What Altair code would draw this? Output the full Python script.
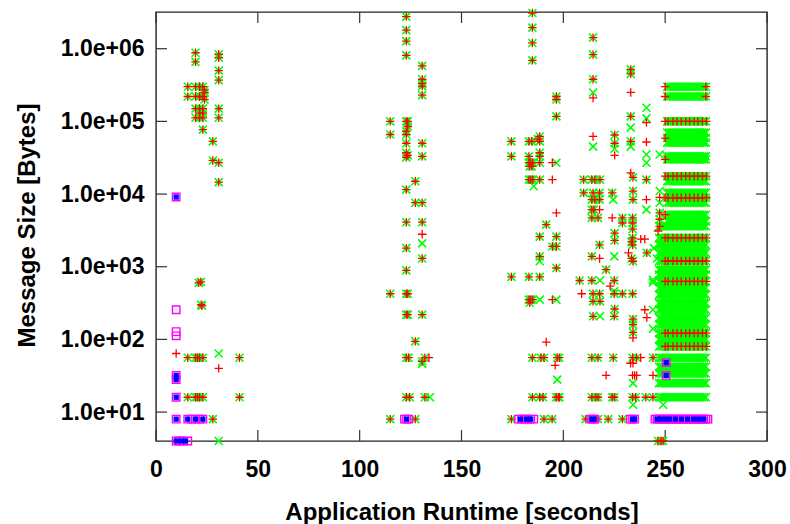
import altair as alt
import pandas as pd

# ---------------- data (time [s], size [bytes]) ----------------
# points where a red "+" and a green "x" coincide
left_both = [
    (19.4, 8.8e5), (19.4, 6.6e5), (30.8, 8.4e5), (30.8, 7.5e5), (30.8, 5.0e5), (30.8, 3.7e5),
    (15.6, 3.0e5), (19.4, 3.0e5), (21.4, 3.0e5), (23.0, 3.0e5), (23.8, 2.7e5), (23.8, 2.5e5),
    (15.6, 2.2e5), (19.4, 2.2e5), (21.4, 2.2e5), (23.0, 2.2e5), (23.8, 2.0e5),
    (19.4, 1.5e5), (21.4, 1.5e5), (23.0, 1.5e5), (30.8, 1.5e5), (21.4, 1.3e5), (23.0, 1.3e5),
    (19.4, 1.12e5), (21.4, 1.12e5), (23.0, 1.12e5), (30.8, 1.12e5), (23.0, 7.7e4),
    (27.9, 5.3e4), (27.9, 2.9e4), (30.8, 2.7e4), (30.8, 1.46e4),
    (21.0, 600), (22.0, 620), (22.2, 300), (22.6, 290),
    (15.6, 56), (19.4, 56), (20.4, 56), (21.4, 56), (23.0, 56), (41.0, 56),
    (15.6, 16), (19.4, 16), (20.4, 16), (21.4, 16), (23.0, 16), (41.0, 16),
    (27.9, 8),
]
left_red = [(9.9, 64), (30.8, 40)]
left_green = [(30.8, 64), (30.8, 4)]

mid_both = [
    (122.9, 2.76e6), (122.9, 1.8e6), (122.9, 1.27e6), (122.9, 8.1e5),
    (130.7, 5.8e5), (130.7, 3.8e5), (130.7, 3.3e5), (130.7, 3.05e5), (130.7, 2.3e5),
    (115.0, 1.0e5), (122.9, 1.0e5), (123.6, 1.0e5), (115.0, 6.6e4), (122.9, 6.6e4),
    (122.9, 7.3e4), (123.6, 8.5e4), (122.9, 5.0e4), (130.7, 5.0e4), (122.9, 3.7e4),
    (123.6, 3.4e4), (122.9, 3.2e4), (130.7, 3.3e4),
    (127.3, 1.5e4), (122.9, 1.15e4), (127.3, 7.6e3), (130.7, 7.6e3),
    (122.9, 4.1e3), (130.7, 4.1e3), (122.9, 1.8e3), (130.7, 1.3e3), (122.9, 890),
    (115.0, 425), (122.9, 425), (123.6, 425), (122.9, 219), (123.6, 219), (130.7, 219),
    (127.3, 94), (122.9, 56), (124.0, 56), (132.0, 56), (130.7, 50),
    (122.9, 16), (124.5, 16), (132.0, 16), (115.0, 8), (127.3, 8),
]
mid_red = [(130.7, 2.8e3), (134.0, 56)]
mid_green = [(130.7, 2.1e3), (130.7, 46), (134.5, 16)]

d_both = [
    (184.8, 3.1e6), (184.8, 1.95e6), (184.8, 1.2e6), (184.8, 6.9e5),
    (196.6, 2.2e5), (196.6, 2.0e5), (196.6, 1.17e5),
    (174.5, 5.3e4), (183.1, 5.3e4), (184.5, 5.3e4), (188.4, 5.3e4), (188.4, 6.2e4), (187.5, 5.7e4),
    (174.5, 3.3e4), (183.1, 3.3e4), (188.4, 3.3e4), (188.4, 3.7e4),
    (183.1, 2.7e4), (184.0, 2.7e4), (185.0, 2.7e4), (183.5, 2.4e4), (184.5, 2.4e4), (188.4, 2.7e4),
    (183.1, 1.58e4), (184.0, 1.58e4), (185.0, 1.58e4), (188.4, 1.58e4),
    (191.6, 3.8e3), (188.4, 2.6e3), (196.6, 2.6e3), (194.6, 1.9e3), (196.6, 1.9e3),
    (188.4, 1.39e3), (196.6, 960), (174.5, 724), (183.1, 724), (188.4, 724),
    (183.1, 352), (184.0, 352), (185.0, 352), (183.5, 320),
    (184.8, 56), (189.0, 56), (190.5, 56), (197.0, 56),
    (184.8, 16), (188.4, 16), (190.0, 16), (196.5, 16), (197.5, 16),
    (174.5, 8), (190.5, 8), (194.5, 8),
]
d_red = [(194.6, 2.7e4), (194.6, 1.58e4), (196.6, 5.5e3), (191.6, 92), (196.0, 44), (194.6, 352)]
d_green = [(196.6, 2.7e4), (185.5, 1.28e4), (188.4, 1.19e3), (188.4, 352), (196.6, 352), (197.0, 28)]

e_both = [
    (214.6, 1.42e6), (214.6, 8.3e5), (214.6, 3.8e5), (233.1, 5.2e5), (233.1, 4.5e5),
    (233.1, 1.17e5), (233.1, 5.3e4), (225.2, 6.5e4), (225.2, 5.0e4), (234.2, 1.7e4),
    (234.2, 1.1e4), (234.2, 8.4e3),
    (210.0, 1.58e4), (214.0, 1.58e4), (215.5, 1.58e4), (218.0, 1.58e4),
    (210.0, 1.04e4), (214.6, 1.04e4), (217.8, 1.04e4), (224.0, 1.04e4),
    (214.0, 8.4e3), (215.5, 8.4e3), (217.8, 8.4e3), (214.0, 6.1e3), (215.0, 6.1e3),
    (214.0, 4.7e3), (217.0, 4.7e3), (229.0, 4.7e3), (234.0, 4.7e3),
    (229.0, 4.0e3), (234.0, 4.0e3), (234.0, 3.3e3), (234.0, 2.5e3), (234.0, 2.0e3), (233.5, 2.2e3),
    (225.2, 2.9e3), (225.2, 2.3e3), (217.8, 2.0e3), (214.0, 1.39e3), (234.2, 1.19e3), (233.5, 1.3e3),
    (221.0, 912), (208.0, 646), (214.0, 646), (225.0, 646),
    (214.6, 425), (217.8, 425), (225.0, 425), (229.0, 425), (234.0, 425),
    (214.6, 333), (218.0, 333), (225.2, 262), (214.6, 208), (225.0, 208),
    (234.2, 190), (234.2, 160), (234.2, 125),
    (198.0, 56), (214.0, 56), (217.0, 56), (224.5, 56), (234.0, 56), (236.0, 56),
    (198.0, 16), (214.0, 16), (216.0, 16), (217.0, 16), (224.0, 16), (225.0, 16),
    (234.0, 16), (235.5, 16),
    (211.0, 8), (217.0, 8), (222.0, 8), (229.0, 8),
]
e_red = [
    (214.6, 2.1e5), (233.1, 2.5e5), (214.6, 6.2e4), (225.2, 3.4e4), (233.1, 1.96e4),
    (217.8, 6.1e3), (224.0, 4.7e3), (232.0, 1.55e3), (217.8, 1.3e3), (223.0, 540),
    (209.0, 425), (234.2, 105), (234.2, 47), (221.0, 32), (234.0, 32), (235.0, 32), (236.0, 32),
]
e_green = [
    (214.6, 2.5e5), (233.1, 8.2e4), (214.6, 4.5e4), (233.1, 4.5e4), (225.2, 4.2e4),
    (224.5, 8.4e3), (225.0, 1.39e3), (218.0, 646), (225.0, 460), (218.0, 208),
    (234.2, 25), (234.2, 12.6),
]

f_both = [
    (240.8, 1.58e4), (247.3, 5.5e3), (247.3, 4.5e3), (247.3, 3.6e3), (241.0, 1.55e3),
    (244.0, 56), (244.0, 16), (240.5, 16), (246.5, 4), (248.0, 4), (249.0, 4),
]
f_red = [
    (240.8, 9.6e4), (240.8, 5.2e4), (240.8, 8.4e3), (247.3, 9.0e3), (246.5, 3.1e3),
    (238.0, 2.4e3), (240.0, 2.4e3), (240.0, 256), (241.0, 200), (238.0, 56), (244.0, 32),
    (233.0, 47), (250.0, 3.0e5), (270.0, 3.0e5), (250.0, 2.2e5), (270.0, 2.2e5),
    (250.0, 5.9e4), (250.0, 5.2e3), (250.0, 3.0e4),
]
f_green = [
    (240.8, 1.54e5), (240.8, 1.1e5), (240.8, 3.5e4), (240.8, 2.7e4), (240.8, 6.1e3),
    (247.3, 3.5e4), (247.3, 1.1e4), (247.3, 7.6e3), (244.0, 660), (244.0, 610),
    (244.0, 256), (244.0, 140), (249.0, 12.6), (244.5, 1.8e3), (246.0, 1.3e3),
]

# the dense block at the end of the run
block_upper_sizes = [3.0e5, 2.2e5, 1.0e5, 7.0e4, 5.9e4, 5.1e4, 3.3e4, 3.0e4, 1.76e4, 1.5e4,
                     1.04e4, 8.9e3, 7.6e3, 5.2e3, 4.2e3]
block_lower_sizes = [3.6e3, 2.5e3, 2.0e3, 1.55e3, 1.2e3, 912, 780, 630, 510, 413, 316, 256,
                     197, 159, 122, 100, 80, 56, 42, 34, 25, 16]
block_red_sizes = [1.0e5, 1.76e4, 8.9e3, 2.5e3, 1.2e3, 630, 122, 80]
block_upper_times = [251, 252, 253, 254, 255, 256, 257, 258, 259, 260,
                     261, 262, 263, 264, 265, 266, 267, 268, 269, 270]
block_lower_times = [247, 248, 249, 250, 251, 252, 253, 254, 255, 256, 257, 258, 259, 260,
                     261, 262, 263, 264, 265, 266, 267, 268, 269, 270]
block_red_times = [250.0, 251.4, 253.8, 255.8, 257.9, 260.1, 262.0, 264.2, 266.1, 268.3, 270.2]

magenta_pts = [
    (9.9, 9100), (9.9, 256), (9.9, 128), (9.9, 112), (9.9, 32), (9.9, 28), (9.9, 16),
    (9.9, 8), (15.6, 8), (17.5, 8), (19.4, 8), (21.4, 8), (23.0, 8),
    (9.9, 4), (11.5, 4), (13.2, 4), (15.6, 4),
    (122.0, 8), (123.0, 8), (124.0, 8),
    (178.0, 8), (179.5, 8), (181.0, 8), (182.5, 8), (184.0, 8), (185.5, 8),
    (213.5, 8), (214.5, 8), (215.5, 8), (233.0, 8), (234.0, 8), (235.0, 8),
    (250.5, 48), (250.5, 32),
]
magenta_row8_times = [245, 246, 247, 248, 249, 250, 251, 252, 253, 254, 255, 256, 257, 258,
                      259, 260, 261, 262, 263, 264, 265, 266, 267, 268, 269, 270, 271]
blue_pts = [
    (9.9, 9100), (9.9, 32), (9.9, 28), (9.9, 16), (9.9, 8), (15.6, 8), (19.4, 8), (23.0, 8),
    (9.9, 4), (12.5, 4), (14.5, 4), (123.0, 8), (179.0, 8), (182.0, 8), (184.0, 8),
    (214.0, 8), (215.0, 8), (234.0, 8), (235.0, 8), (250.5, 48), (250.5, 32),
    (246.0, 8), (247.5, 8), (250.0, 8), (252.0, 8), (255.0, 8), (258.0, 8), (261.0, 8),
    (264.0, 8), (266.5, 8), (269.0, 8),
]

x_ticks = [0, 50, 100, 150, 200, 250, 300]
y_ticks = [10, 100, 1000, 10000, 100000, 1000000]

# ---------------- build tables ----------------
rows = []
def add(pts, series):
    for t, s in pts:
        rows.append({"t": t, "s": s, "series": series})

for group in (left_both, mid_both, d_both, e_both, f_both):
    add(group, "red")
    add(group, "green")
for group in (left_red, mid_red, d_red, e_red, f_red):
    add(group, "red")
for group in (left_green, mid_green, d_green, e_green, f_green):
    add(group, "green")
for s in block_upper_sizes:
    add([(t, s) for t in block_upper_times], "green")
for s in block_lower_sizes:
    add([(t, s) for t in block_lower_times], "green")
for s in block_red_sizes:
    add([(t, s) for t in block_red_times], "red")
add(magenta_pts, "magenta")
add([(t, 8) for t in magenta_row8_times], "magenta")
add(blue_pts, "blue")
df = pd.DataFrame(rows)

FONT = "Liberation Sans"
xscale = alt.Scale(domain=[0, 300], nice=False, zero=False)
yscale = alt.Scale(type="log", domain=[4, 3.2e6], nice=False)

xaxis = alt.Axis(values=x_ticks, grid=False, ticks=False, domain=False, tickSize=0,
                 labelPadding=17, labelFontSize=23, labelFont=FONT, labelFontWeight="bold",
                 labelColor="black", labelFlush=False, labelOverlap=False,
                 titleFontSize=24, titleFont=FONT, titleFontWeight="bold", titleColor="black",
                 titleBaseline="alphabetic", titleY=78)
yaxis = alt.Axis(values=y_ticks, grid=False, ticks=False, domain=False, tickSize=0,
                 labelExpr="'1.0e+0' + format(round(log(datum.value)/LN10), 'd')",
                 labelPadding=12, labelFontSize=23, labelFont=FONT, labelFontWeight="bold",
                 labelColor="black", labelOverlap=False,
                 titleFontSize=24, titleFont=FONT, titleFontWeight="bold", titleColor="black",
                 titleBaseline="alphabetic", titleX=-122, titleY=213)

X = alt.X("t:Q", scale=xscale, axis=xaxis, title="Application Runtime [seconds]")
Y = alt.Y("s:Q", scale=yscale, axis=yaxis, title="Message Size [Bytes]")

PLUS = "M-1,0L1,0M0,-1L0,1"
CROSS = "M-1,-1L1,1M-1,1L1,-1"

base = alt.Chart(df)
green = base.transform_filter(alt.datum.series == "green").mark_point(
    shape=CROSS, size=64, color="#00ff00", strokeWidth=1.6, filled=False, opacity=1
).encode(x=X, y=Y)
red = base.transform_filter(alt.datum.series == "red").mark_point(
    shape=PLUS, size=70, color="#ff0000", strokeWidth=1.3, filled=False, opacity=1
).encode(x=X, y=Y)
magenta = base.transform_filter(alt.datum.series == "magenta").mark_point(
    shape="square", size=56, color="#ff00ff", strokeWidth=1.4, filled=False, opacity=1
).encode(x=X, y=Y)
blue = base.transform_filter(alt.datum.series == "blue").mark_point(
    shape="square", size=28, color="#0000ff", filled=True, opacity=1
).encode(x=X, y=Y)

xt = pd.DataFrame({"t": x_ticks})
yt = pd.DataFrame({"s": y_ticks})
tick_style = dict(color="#333333", strokeWidth=1.2)
xt_bottom = alt.Chart(xt).mark_rule(**tick_style).encode(x=X, y=alt.value(429), y2=alt.value(418))
xt_top = alt.Chart(xt).mark_rule(**tick_style).encode(x=X, y=alt.value(0), y2=alt.value(11))
yt_left = alt.Chart(yt).mark_rule(**tick_style).encode(y=Y, x=alt.value(0), x2=alt.value(11))
yt_right = alt.Chart(yt).mark_rule(**tick_style).encode(y=Y, x=alt.value(600), x2=alt.value(611))

chart = alt.layer(
    xt_bottom, xt_top, yt_left, yt_right, green, red, magenta, blue
).properties(
    width=611, height=429,
    autosize=alt.AutoSizeParams(type="none"),
    padding={"left": 156, "top": 12, "right": 23, "bottom": 83},
    background="white",
).configure_view(stroke="#222222", strokeWidth=1.4)

chart.save("out.html", embed_options={"renderer": "svg", "actions": False})
